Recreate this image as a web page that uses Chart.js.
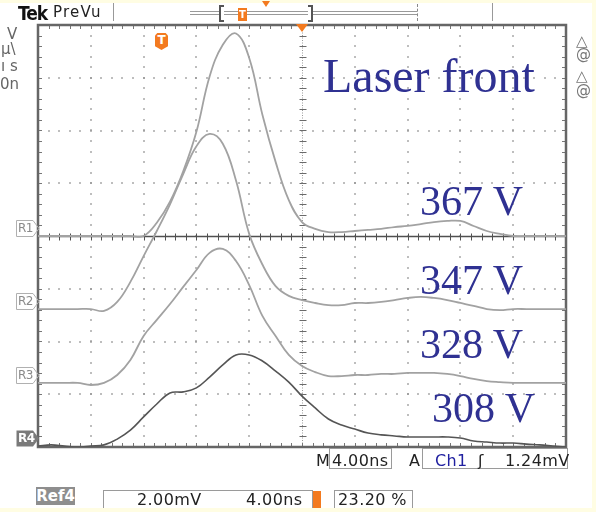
<!DOCTYPE html>
<html>
<head>
<meta charset="utf-8">
<script src="https://cdn.jsdelivr.net/npm/chart.js@4.4.1/dist/chart.umd.min.js"></script>
<style>
  html, body { margin: 0; padding: 0; }
  body { width: 596px; height: 512px; background: #fffde3; position: relative; overflow: hidden;
         font-family: "DejaVu Sans", sans-serif; }
  #screen { position: absolute; left: 0; top: 3px; width: 592px; height: 505px; background: #fff; }
  #bottomStrip { position: absolute; left: 0; top: 508px; width: 596px; height: 4px; background: #fffde3; z-index: 5; }
  canvas { position: absolute; left: 0; top: 0; }
  .t { position: absolute; white-space: nowrap; line-height: 1; }
  .scope { font-size: 16px; color: #222; letter-spacing: 0.4px; }
  .gray { font-size: 15px; color: #666; }
  .big { font-family: "Liberation Serif", "Times New Roman", serif; color: #2f3192; }
  .box { position: absolute; box-sizing: border-box; border: 1px solid #9a9a9a; }
  .ln { position: absolute; }
  .tag { font-size: 12px; color: #8a8a8a; letter-spacing: -0.5px; }
</style>
</head>
<body>
<div id="screen"></div>
<canvas id="scope" width="596" height="512"></canvas>

<!-- top bar -->
<span class="t" style="left:18px;top:4px;font-size:19px;font-weight:bold;font-family:'DejaVu Sans Condensed','DejaVu Sans';font-stretch:condensed;letter-spacing:-1px;color:#111">Tek</span>
<span class="t" style="left:53px;top:5px;font-size:15px;letter-spacing:1.2px;color:#222">PreVu</span>
<div class="ln" style="left:113px;top:3px;width:1px;height:18px;background:#999"></div>
<div class="ln" style="left:190px;top:11px;width:227px;height:2px;border-top:1px solid #999;border-bottom:1px solid #999"></div>
<div class="ln" style="left:219px;top:5px;width:3px;height:13px;border:2px solid #555;border-right:none;background:#fff"></div>
<div class="ln" style="left:308px;top:5px;width:3px;height:13px;border:2px solid #555;border-left:none;background:#fff"></div>
<div class="ln" style="left:417px;top:4px;width:0;height:17px;border-left:1px dashed #888"></div>
<div class="ln" style="left:492px;top:3px;width:1px;height:18px;background:#999"></div>
<div class="ln" style="left:238px;top:8px;width:9px;height:13px;background:#f37a1f;color:#fff;font-size:10px;font-weight:bold;text-align:center;line-height:13px">T</div>
<div class="ln" style="left:262px;top:1px;width:0;height:0;border-left:4px solid transparent;border-right:4px solid transparent;border-top:6px solid #f37a1f"></div>

<!-- left cut readouts -->
<span class="t gray" style="left:7px;top:27px">V</span>
<span class="t gray" style="left:1px;top:42px">µ\</span>
<span class="t gray" style="left:1px;top:59px">ı s</span>
<span class="t gray" style="left:0px;top:77px">0n</span>

<!-- right cut readouts -->
<span class="t gray" style="left:576px;top:34px;color:#777">△</span>
<span class="t gray" style="left:576px;top:47px;color:#777">@</span>
<span class="t gray" style="left:576px;top:69px;color:#777">△</span>
<span class="t gray" style="left:576px;top:83px;color:#777">@</span>

<!-- trigger badge -->
<div class="ln" style="left:155px;top:33px;width:13px;height:17px;background:#f37a1f;color:#fff;font-size:12px;font-weight:bold;text-align:center;line-height:15px;clip-path:polygon(0 15%,18% 0,82% 0,100% 15%,100% 78%,50% 100%,0 78%)">T</div>

<!-- reference tags -->
<span class="t tag" style="left:18px;top:222px">R1</span>
<span class="t tag" style="left:18px;top:295px">R2</span>
<span class="t tag" style="left:18px;top:369px">R3</span>
<span class="t tag" style="left:18px;top:432px;color:#fff;font-weight:bold">R4</span>

<!-- annotations -->
<span class="t big" style="left:323px;top:52px;font-size:48px">Laser front</span>
<span class="t big" style="left:420px;top:180px;font-size:42px">367 V</span>
<span class="t big" style="left:420px;top:259px;font-size:42px">347 V</span>
<span class="t big" style="left:420px;top:323px;font-size:42px">328 V</span>
<span class="t big" style="left:432px;top:387px;font-size:42px">308 V</span>

<!-- readout row 1 -->
<span class="t scope" style="left:316px;top:453px">M</span>
<div class="box" style="left:329px;top:448px;width:63px;height:21px"></div>
<span class="t scope" style="left:332px;top:453px">4.00ns</span>
<span class="t scope" style="left:409px;top:453px">A</span>
<div class="box" style="left:422px;top:448px;width:146px;height:21px"></div>
<span class="t scope" style="left:435px;top:453px;color:#2020a0">Ch1</span>
<span class="t scope" style="left:478px;top:453px">ʃ</span>
<span class="t scope" style="left:505px;top:453px">1.24mV</span>

<!-- readout row 2 -->
<div class="ln" style="left:36px;top:487px;width:39px;height:18px;background:#8e8e8e;color:#fff;font-size:15px;font-weight:bold;text-align:center;line-height:18px">Ref4</div>
<div class="box" style="left:103px;top:490px;width:210px;height:20px"></div>
<span class="t scope" style="left:137px;top:492px">2.00mV</span>
<span class="t scope" style="left:246px;top:492px">4.00ns</span>
<div class="ln" style="left:313px;top:491px;width:8px;height:17px;background:#f37a1f"></div>
<div class="box" style="left:334px;top:490px;width:79px;height:20px"></div>
<span class="t scope" style="left:338px;top:492px">23.20 %</span>
<div id="bottomStrip"></div>

<script>
// Base de tiempo: 4 ns/div, 10 divisiones
const timeNs = [0, 1, 2, 3, 4, 5, 6, 7, 8, 9, 10, 11, 12, 13, 14, 15, 16, 17, 18, 19, 20,
                21, 22, 23, 24, 25, 26, 27, 28, 29, 30, 31, 32, 33, 34, 35, 36, 37, 38, 39, 40];

// Trazas de referencia (mV, 2 mV/div, 0 = centro de pantalla)
const r1Mv = [0, 0, 0, 0, 0, 0, 0, 0, 0, 0.5, 1.3, 2.45, 3.95, 6.05, 7.25, 7.68, 6.75, 4.6, 2.81, 1.36,
              0.53, 0.27, 0.15, 0.15, 0.19, 0.23, 0.27, 0.34, 0.38, 0.45, 0.53, 0.57, 0.57, 0.38, 0.19, 0.08,
              0, 0, 0, 0, 0];
const r2Mv = [-2.77, -2.77, -2.77, -2.77, -2.77, -2.84, -2.5, -1.74, -0.76, 0.19, 1.2, 2.35, 3.4, 3.87, 3.5,
              2.1, 0.08, -1.08, -1.9, -2.27, -2.43, -2.54, -2.62, -2.62, -2.54, -2.54, -2.5, -2.43, -2.35,
              -2.31, -2.35, -2.43, -2.54, -2.65, -2.77, -2.81, -2.77, -2.77, -2.77, -2.77, -2.77];
const r3Mv = [-5.57, -5.57, -5.57, -5.57, -5.65, -5.57, -5.27, -4.7, -3.79, -3.18, -2.58, -1.93, -1.29,
              -0.64, -0.49, -0.95, -1.86, -3.03, -3.79, -4.51, -4.93, -5.16, -5.31, -5.31, -5.27, -5.27,
              -5.23, -5.23, -5.19, -5.19, -5.19, -5.23, -5.31, -5.42, -5.5, -5.54, -5.57, -5.57, -5.57,
              -5.57, -5.57];
const r4Mv = [-7.96, -7.92, -7.96, -8.0, -7.96, -7.92, -7.7, -7.36, -6.86, -6.37, -5.95, -5.91, -5.76,
              -5.35, -4.89, -4.51, -4.51, -4.74, -5.12, -5.54, -6.07, -6.52, -6.94, -7.17, -7.32, -7.47,
              -7.54, -7.58, -7.62, -7.62, -7.62, -7.62, -7.66, -7.77, -7.81, -7.85, -7.85, -7.89, -7.92,
              -7.96, -8.0];

const seriesNames = ['R1', 'R2', 'R3', 'R4'];

// Retícula
const xDivTicks = [0, 4, 8, 12, 16, 20, 24, 28, 32, 36, 40];
const yDivTicks = [-8, -6, -4, -2, 0, 2, 4, 6, 8];
const triggerNs = 20;

function toPoints(values) {
    return timeNs.map((t, i) => ({ x: t, y: values[i] }));
}

// Dibuja la retícula del osciloscopio usando las escalas del gráfico
const graticule = {
    id: 'graticule',
    beforeDatasetsDraw(chart) {
        const { ctx, chartArea: a, scales: { x, y } } = chart;
        const xMin = xDivTicks[0], xMax = xDivTicks[xDivTicks.length - 1];
        const yMin = yDivTicks[0], yMax = yDivTicks[yDivTicks.length - 1];
        const xSub = (xDivTicks[1] - xDivTicks[0]) / 5;
        const ySub = (yDivTicks[1] - yDivTicks[0]) / 5;
        ctx.save();

        // líneas punteadas
        ctx.fillStyle = '#8c8c8c';
        xDivTicks.forEach(t => {
            if (t === xMin || t === xMax || t === triggerNs) return;
            const px = Math.round(x.getPixelForValue(t));
            for (let v = yMin + ySub; v < yMax; v += ySub) {
                ctx.fillRect(px - 0.75, Math.round(y.getPixelForValue(v)) - 0.75, 1.5, 1.5);
            }
        });
        yDivTicks.forEach(v => {
            if (v === yMin || v === yMax || v === 0) return;
            const py = Math.round(y.getPixelForValue(v));
            for (let t = xMin + xSub; t < xMax; t += xSub) {
                ctx.fillRect(Math.round(x.getPixelForValue(t)) - 0.75, py - 0.75, 1.5, 1.5);
            }
        });

        // eje vertical central (disparo)
        const cx = Math.round(x.getPixelForValue(triggerNs)) + 0.5;
        ctx.strokeStyle = '#9a9a9a';
        ctx.lineWidth = 1;
        ctx.setLineDash([1, 1.5]);
        ctx.beginPath();
        ctx.moveTo(cx, a.top);
        ctx.lineTo(cx, a.bottom);
        ctx.stroke();
        ctx.setLineDash([]);
        ctx.strokeStyle = '#6a6a6a';
        ctx.beginPath();
        for (let v = yMin; v <= yMax + 1e-6; v += ySub) {
            const py = Math.round(y.getPixelForValue(v)) + 0.5;
            ctx.moveTo(cx - 3, py);
            ctx.lineTo(cx + 4, py);
        }
        ctx.stroke();

        // eje horizontal central
        const cy = Math.round(y.getPixelForValue(0)) + 0.5;
        ctx.strokeStyle = '#505050';
        ctx.lineWidth = 1.3;
        ctx.beginPath();
        ctx.moveTo(a.left, cy);
        ctx.lineTo(a.right, cy);
        ctx.stroke();
        ctx.lineWidth = 1;
        ctx.beginPath();
        for (let t = xMin; t <= xMax + 1e-6; t += xSub) {
            const px = Math.round(x.getPixelForValue(t)) + 0.5;
            ctx.moveTo(px, cy - 3);
            ctx.lineTo(px, cy + 4);
        }
        ctx.stroke();

        // marcas en el borde
        ctx.strokeStyle = '#777';
        ctx.beginPath();
        for (let t = xMin; t <= xMax + 1e-6; t += xSub) {
            const px = Math.round(x.getPixelForValue(t)) + 0.5;
            ctx.moveTo(px, a.top);
            ctx.lineTo(px, a.top + 4);
            ctx.moveTo(px, a.bottom);
            ctx.lineTo(px, a.bottom - 4);
        }
        for (let v = yMin; v <= yMax + 1e-6; v += ySub) {
            const py = Math.round(y.getPixelForValue(v)) + 0.5;
            ctx.moveTo(a.left, py);
            ctx.lineTo(a.left + 4, py);
            ctx.moveTo(a.right, py);
            ctx.lineTo(a.right - 4, py);
        }
        ctx.stroke();

        // marco
        ctx.strokeStyle = '#666';
        ctx.lineWidth = 2.5;
        ctx.strokeRect(a.left, a.top, a.right - a.left, a.bottom - a.top);
        ctx.restore();
    },
    afterDraw(chart) {
        const { ctx, chartArea: a, scales: { x, y } } = chart;
        ctx.save();
        // triángulo de disparo
        const tx = x.getPixelForValue(triggerNs);
        ctx.fillStyle = '#f37a1f';
        ctx.beginPath();
        ctx.moveTo(tx - 6, a.top - 1);
        ctx.lineTo(tx + 6, a.top - 1);
        ctx.lineTo(tx, a.top + 7);
        ctx.closePath();
        ctx.fill();

        // etiquetas R1..R4 en la línea base de cada traza
        [r1Mv, r2Mv, r3Mv, r4Mv].forEach((vals, i) => {
            const ty = Math.round(y.getPixelForValue(vals[0])) - 8 + 0.5;
            ctx.beginPath();
            ctx.moveTo(16.5, ty - 8);
            ctx.lineTo(33, ty - 8);
            ctx.lineTo(39, ty);
            ctx.lineTo(33, ty + 8);
            ctx.lineTo(16.5, ty + 8);
            ctx.closePath();
            if (i === 3) {
                ctx.fillStyle = '#7a7a7a';
                ctx.fill();
            } else {
                ctx.strokeStyle = '#b0b0b0';
                ctx.lineWidth = 1;
                ctx.stroke();
            }
        });
        ctx.restore();
    }
};

const traceColors = ['#a2a2a2', '#a2a2a2', '#a2a2a2', '#555555'];

new Chart(document.getElementById('scope'), {
    type: 'line',
    data: {
        datasets: [r1Mv, r2Mv, r3Mv, r4Mv].map((vals, i) => ({
            label: seriesNames[i],
            data: toPoints(vals),
            borderColor: traceColors[i],
            borderWidth: i === 3 ? 1.6 : 1.8,
            borderJoinStyle: 'round',
            pointRadius: 0,
            tension: 0.4,
            fill: false
        }))
    },
    options: {
        responsive: false,
        animation: false,
        layout: { padding: { left: 38, right: 30, top: 25, bottom: 65 } },
        scales: {
            x: { type: 'linear', min: xDivTicks[0], max: xDivTicks[xDivTicks.length - 1], display: false },
            y: { type: 'linear', min: yDivTicks[0], max: yDivTicks[yDivTicks.length - 1], display: false }
        },
        plugins: { legend: { display: false }, tooltip: { enabled: false } }
    },
    plugins: [graticule]
});
</script>
</body>
</html>
